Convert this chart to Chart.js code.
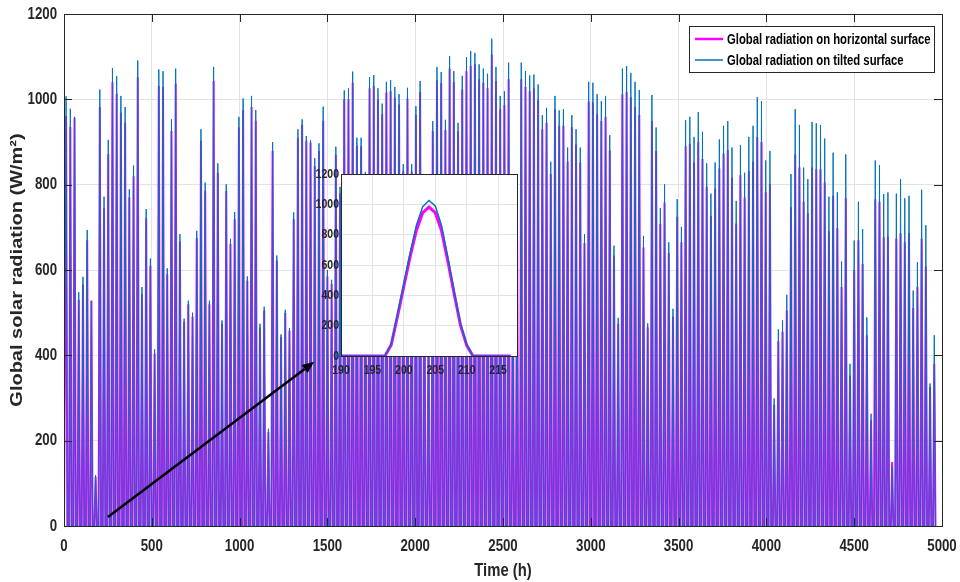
<!DOCTYPE html>
<html>
<head>
<meta charset="utf-8">
<script src="https://cdn.jsdelivr.net/npm/chart.js@4.4.1/dist/chart.umd.min.js"></script>
<style>
html, body { margin: 0; padding: 0; background: #fff; }
#wrap { position: relative; width: 960px; height: 582px; }
#main { position: absolute; left: 0; top: 0; }
#inset { position: absolute; left: 300px; top: 165px; }
</style>
</head>
<body>
<div id="wrap">
<canvas id="main" width="960" height="582"></canvas>
<canvas id="inset" width="230" height="220"></canvas>
</div>
<script>
// daily peak values (W/m2), one per day, day 0 .. 206
var horizontalPeak = [
    961, 935, 957, 530, 566, 670, 528, 115, 982, 745, 871, 1040, 1013, 969, 945, 770, 820, 1051, 544, 721, 610, 404, 1031,
    1029, 590, 926, 1037, 667, 478, 520, 491, 675, 903, 786, 520, 1043, 828, 474, 785, 661, 719, 934, 975, 575, 982, 950,
    465, 505, 220, 879, 622, 443, 500, 458, 719, 910, 940, 903, 899, 844, 879, 950, 585, 567, 870, 780, 1000, 1000, 1039, 891,
    890, 815, 1026, 1031, 1000, 965, 1016, 1019, 1004, 988, 832, 1002, 831, 963, 1018, 680, 490, 926, 1045, 1038, 928, 1072, 1040, 925,
    1023, 1066, 1078, 1082, 1047, 1039, 1026, 1105, 1043, 977, 987, 1047, 620, 690, 1047, 1029, 1019, 1027, 998, 930, 945, 825, 977,
    938, 938, 854, 935, 895, 852, 663, 995, 993, 965, 949, 959, 880, 634, 474, 1012, 1018, 1005, 982, 963, 653, 466, 949, 879,
    708, 758, 640, 491, 725, 665, 890, 896, 852, 900, 860, 795, 727, 791, 838, 873, 881, 817, 709, 822, 770, 832, 854, 912,
    900, 782, 801, 284, 433, 455, 505, 747, 871, 840, 760, 733, 840, 836, 836, 805, 691, 774, 698, 560, 768, 353, 600, 670,
    614, 447, 248, 766, 760, 677, 678, 150, 674, 686, 665, 687, 511, 560, 673, 608, 326, 380
];
var tiltedPeak = [
    1007, 978, 959, 548, 584, 694, 528, 119, 1023, 772, 905, 1073, 1054, 1008, 982, 789, 845, 1091, 560, 743, 627, 414, 1070,
    1066, 604, 953, 1072, 684, 486, 528, 500, 692, 930, 805, 528, 1076, 850, 482, 801, 673, 736, 959, 1002, 585, 1008, 975,
    474, 514, 228, 900, 634, 449, 507, 464, 735, 930, 953, 914, 904, 862, 897, 983, 600, 577, 889, 795, 1021, 1026, 1065, 910,
    910, 830, 1052, 1057, 1026, 990, 1041, 1045, 1029, 1012, 848, 1027, 848, 984, 1043, 700, 500, 949, 1076, 1064, 952, 1101, 1066, 945,
    1055, 1099, 1113, 1109, 1082, 1072, 1060, 1142, 1076, 1008, 1019, 1086, 640, 704, 1086, 1066, 1056, 1058, 1035, 963, 980, 854, 1008,
    974, 977, 887, 963, 930, 887, 684, 1041, 1039, 1012, 996, 1008, 916, 657, 488, 1072, 1078, 1062, 1041, 1022, 680, 475, 1010, 934,
    745, 801, 665, 509, 766, 701, 951, 959, 912, 970, 924, 850, 779, 852, 906, 938, 949, 887, 762, 893, 828, 912, 938, 1005,
    996, 857, 879, 299, 461, 482, 542, 825, 977, 940, 840, 813, 947, 944, 940, 908, 772, 875, 782, 620, 871, 380, 669, 760,
    696, 489, 263, 857, 846, 778, 782, 140, 779, 813, 768, 774, 552, 618, 788, 705, 334, 447
];

// zoomed day (hours 190 .. 217)
var insetHours = [190, 191, 192, 193, 194, 195, 196, 197, 198, 199, 200, 201, 202, 203, 204, 205, 206, 207, 208, 209, 210, 211, 212, 213, 214, 215, 216, 217];
var insetHorizontal = [0, 0, 0, 0, 0, 0, 0, 0, 75, 265, 460, 655, 830, 945, 982, 945, 825, 625, 410, 205, 70, 0, 0, 0, 0, 0, 0, 0];
var insetTilted = [0, 0, 0, 0, 0, 0, 0, 0, 82, 278, 478, 680, 862, 985, 1025, 990, 860, 650, 428, 215, 75, 0, 0, 0, 0, 0, 0, 0];

var seriesLabels = ['Global radiation on horizontal surface', 'Global radiation on tilted surface'];
var xTitle = 'Time (h)';
var yTitle = 'Global solar radiation (W/m\u00b2)';

var SUNRISE = 5, NOON = 12, SUNSET = 19;
var ARROW_FROM = {x: 250, y: 21};
var ARROW_TO = {x: 1425, y: 385};

var FONT = "'Liberation Sans', Arial, sans-serif";
var AXIS_COLOR = '#262626';
var GRID_COLOR = '#e3e3e3';
var MAGENTA = '#ff00ff';
var BLUE = '#0072bd';

/* the figure text is horizontally condensed; squeeze glyphs across the screen x direction */
var TEXT_SQUEEZE = 0.78;
var rawFillText = CanvasRenderingContext2D.prototype.fillText;
CanvasRenderingContext2D.prototype.fillText = function(text, x, y, maxWidth) {
    var m = this.getTransform();
    this.save();
    this.translate(x, y);
    if (Math.abs(m.b) > 0.5) this.scale(1, TEXT_SQUEEZE);   // rotated text
    else this.scale(TEXT_SQUEEZE, 1);
    if (maxWidth === undefined) rawFillText.call(this, text, 0, 0);
    else rawFillText.call(this, text, 0, 0, maxWidth);
    this.restore();
};

function plainNumber(v) { return String(v); }

function dailyPoints(peaks) {
    var pts = [{x: 0, y: 0}];
    for (var d = 0; d < peaks.length; d++) {
        pts.push({x: d * 24 + SUNRISE, y: 0});
        pts.push({x: d * 24 + NOON, y: peaks[d]});
        pts.push({x: d * 24 + SUNSET, y: 0});
    }
    return pts;
}

function hourPoints(hours, values) {
    return hours.map(function(h, i) { return {x: h, y: values[i]}; });
}

/* matlab style box: all four sides plus inward ticks */
var boxPlugin = {
    id: 'box',
    afterDraw: function(chart, args, opts) {
        var ctx = chart.ctx, a = chart.chartArea;
        var len = opts.tickLength || 0;
        ctx.save();
        ctx.strokeStyle = AXIS_COLOR;
        ctx.lineWidth = 1;
        ctx.beginPath();
        if (len > 0) {
            chart.scales.x.ticks.forEach(function(t) {
                var px = Math.round(chart.scales.x.getPixelForValue(t.value)) + 0.5;
                ctx.moveTo(px, a.bottom); ctx.lineTo(px, a.bottom - len);
                ctx.moveTo(px, a.top); ctx.lineTo(px, a.top + len);
            });
            chart.scales.y.ticks.forEach(function(t) {
                var py = Math.round(chart.scales.y.getPixelForValue(t.value)) + 0.5;
                ctx.moveTo(a.left, py); ctx.lineTo(a.left + len, py);
                ctx.moveTo(a.right, py); ctx.lineTo(a.right - len, py);
            });
        }
        ctx.stroke();
        ctx.strokeRect(Math.round(a.left) + 0.5, Math.round(a.top) + 0.5, Math.round(a.right - a.left), Math.round(a.bottom - a.top));
        ctx.restore();
    }
};

var arrowPlugin = {
    id: 'arrow',
    afterDraw: function(chart) {
        var ctx = chart.ctx, xs = chart.scales.x, ys = chart.scales.y;
        var x0 = xs.getPixelForValue(ARROW_FROM.x), y0 = ys.getPixelForValue(ARROW_FROM.y);
        var x1 = xs.getPixelForValue(ARROW_TO.x), y1 = ys.getPixelForValue(ARROW_TO.y);
        var ang = Math.atan2(y1 - y0, x1 - x0);
        var head = 12, half = 5;
        var bx = x1 - head * Math.cos(ang), by = y1 - head * Math.sin(ang);
        ctx.save();
        ctx.strokeStyle = '#000';
        ctx.fillStyle = '#000';
        ctx.lineWidth = 2.5;
        ctx.beginPath();
        ctx.moveTo(x0, y0);
        ctx.lineTo(bx, by);
        ctx.stroke();
        ctx.beginPath();
        ctx.moveTo(x1, y1);
        ctx.lineTo(bx + half * Math.sin(ang), by - half * Math.cos(ang));
        ctx.lineTo(bx - half * Math.sin(ang), by + half * Math.cos(ang));
        ctx.closePath();
        ctx.fill();
        ctx.restore();
    }
};

/* boxed legend in the top right corner of the plot */
var legendPlugin = {
    id: 'boxLegend',
    afterDraw: function(chart) {
        var ctx = chart.ctx, a = chart.chartArea;
        var w = 245, h = 46;
        var left = a.right - 8 - w, top = a.top + 12;
        var rows = [13, 34];
        ctx.save();
        ctx.fillStyle = '#fff';
        ctx.fillRect(left, top, w, h);
        ctx.strokeStyle = AXIS_COLOR;
        ctx.lineWidth = 1;
        ctx.strokeRect(Math.round(left) + 0.5, Math.round(top) + 0.5, w, h);
        ctx.font = 'bold 14.5px ' + FONT;
        ctx.textBaseline = 'middle';
        ctx.fillStyle = '#000';
        chart.data.datasets.forEach(function(ds, i) {
            var y = top + rows[i];
            ctx.strokeStyle = ds.borderColor;
            ctx.lineWidth = ds.borderWidth + 0.5;
            ctx.beginPath();
            ctx.moveTo(left + 6, y);
            ctx.lineTo(left + 34, y);
            ctx.stroke();
            ctx.fillText(ds.label, left + 38, y + 1);
        });
        ctx.restore();
    }
};

var mainChart = new Chart(document.getElementById('main'), {
    type: 'line',
    data: {
        datasets: [
            {label: seriesLabels[0], data: dailyPoints(horizontalPeak), borderColor: MAGENTA, borderWidth: 2, order: 1},
            {label: seriesLabels[1], data: dailyPoints(tiltedPeak), borderColor: BLUE, borderWidth: 1, order: 0}
        ]
    },
    options: {
        responsive: false,
        animation: false,
        events: [],
        layout: {padding: {top: 14, right: 18, left: 0, bottom: 0}},
        elements: {point: {radius: 0}, line: {tension: 0, fill: false}},
        plugins: {legend: {display: false}, tooltip: {enabled: false}, box: {tickLength: 8}},
        scales: {
            x: {
                type: 'linear', min: 0, max: 5000,
                ticks: {stepSize: 500, autoSkip: false, maxRotation: 0, padding: 10, color: AXIS_COLOR,
                        callback: plainNumber, font: {family: FONT, size: 17, weight: 'bold'}},
                grid: {color: GRID_COLOR, drawTicks: false},
                border: {color: AXIS_COLOR},
                title: {display: true, text: xTitle, color: AXIS_COLOR, padding: {top: 0, bottom: 0},
                        font: {family: FONT, size: 19, weight: 'bold'}},
                afterFit: function(s) { s.height = 56; s.paddingLeft = 0; s.paddingRight = 0; }
            },
            y: {
                min: 0, max: 1200,
                ticks: {stepSize: 200, padding: 7, color: AXIS_COLOR,
                        callback: plainNumber, font: {family: FONT, size: 17, weight: 'bold'}},
                grid: {color: GRID_COLOR, drawTicks: false},
                border: {color: AXIS_COLOR},
                title: {display: true, text: yTitle, color: AXIS_COLOR, padding: {top: 6, bottom: 0},
                        font: {family: FONT, size: 20, weight: 'bold'}},
                afterFit: function(s) { s.width = 64; s.paddingTop = 0; s.paddingBottom = 0; }
            }
        }
    },
    plugins: [boxPlugin, arrowPlugin, legendPlugin]
});

var insetBackground = {
    id: 'insetBg',
    beforeDraw: function(chart) {
        var a = chart.chartArea, ctx = chart.ctx;
        ctx.save();
        ctx.fillStyle = '#fff';
        ctx.fillRect(a.left, a.top, a.right - a.left, a.bottom - a.top);
        ctx.restore();
    }
};

var insetChart = new Chart(document.getElementById('inset'), {
    type: 'line',
    data: {
        datasets: [
            {label: seriesLabels[0], data: hourPoints(insetHours, insetHorizontal), borderColor: MAGENTA, borderWidth: 3, order: 1},
            {label: seriesLabels[1], data: hourPoints(insetHours, insetTilted), borderColor: BLUE, borderWidth: 1.5, order: 0}
        ]
    },
    options: {
        responsive: false,
        animation: false,
        events: [],
        layout: {padding: {top: 9, right: 13, left: 0, bottom: 0}},
        elements: {point: {radius: 0}, line: {tension: 0, fill: false}},
        plugins: {legend: {display: false}, tooltip: {enabled: false}, box: {tickLength: 0}},
        scales: {
            x: {
                type: 'linear', min: 190, max: 218,
                ticks: {stepSize: 5, includeBounds: false, autoSkip: false, maxRotation: 0, padding: 6, color: AXIS_COLOR,
                        callback: plainNumber, font: {family: FONT, size: 13.5, weight: 'bold'}},
                grid: {color: GRID_COLOR, drawTicks: false},
                border: {color: AXIS_COLOR},
                afterFit: function(s) { s.height = 29; s.paddingLeft = 0; s.paddingRight = 0; }
            },
            y: {
                min: 0, max: 1200,
                ticks: {stepSize: 200, padding: 2, color: AXIS_COLOR,
                        callback: plainNumber, font: {family: FONT, size: 13.5, weight: 'bold'}},
                grid: {color: GRID_COLOR, drawTicks: false},
                border: {color: AXIS_COLOR},
                afterFit: function(s) { s.width = 41; s.paddingTop = 0; s.paddingBottom = 0; }
            }
        }
    },
    plugins: [insetBackground, boxPlugin]
});
</script>
</body>
</html>
